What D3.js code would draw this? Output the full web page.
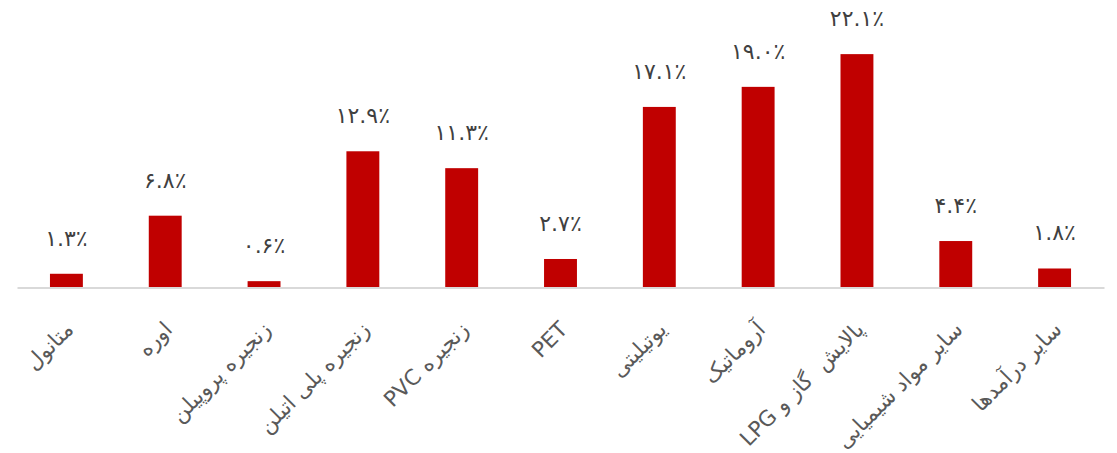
<!DOCTYPE html>
<html lang="fa">
<head>
<meta charset="utf-8">
<script src="https://cdn.jsdelivr.net/npm/d3@7/dist/d3.min.js"></script>
<style>
  html, body { margin: 0; padding: 0; background: #ffffff; }
  svg { display: block; }
  .value-label { font-family: "DejaVu Sans", sans-serif; fill: #404040; }
  .cat-label { font-family: "DejaVu Sans", sans-serif; fill: #595959; white-space: pre; }
</style>
</head>
<body>
<svg id="chart" width="1117" height="453"></svg>
<script>
// Revenue share by product line (percent)
const categories = [
  "متانول",
  "اوره",
  "زنجیره پروپیلن",
  "زنجیره پلی اتیلن",
  "زنجیره PVC",
  "PET",
  "یوتیلیتی",
  "آروماتیک",
  "پالایش  گاز و LPG",
  "سایر مواد شیمیایی",
  "سایر درآمدها"
];
const shares = [1.3, 6.8, 0.6, 12.9, 11.3, 2.7, 17.1, 19.0, 22.1, 4.4, 1.8];
const yDomain = [0, 25];

// Persian digits for the value labels
const faDigits = ["۰", "۱", "۲", "۳", "۴", "۵", "۶", "۷", "۸", "۹"];
const toFa = s => s.replace(/[0-9]/g, d => faDigits[+d]);
const fmtShare = v => toFa(v.toFixed(1)) + "٪";

const svg = d3.select("#chart");
const baseY = 287.5;

const x = d3.scaleBand()
  .domain(categories)
  .range([17, 1104])
  .paddingInner(0.667)
  .paddingOuter(0.3335);

const y = d3.scaleLinear()
  .domain(yDomain)
  .range([baseY, baseY - 264]);

// Bars
svg.append("g")
  .selectAll("rect")
  .data(shares)
  .join("rect")
  .attr("x", (d, i) => x(categories[i]))
  .attr("y", d => y(d))
  .attr("width", x.bandwidth())
  .attr("height", d => y(0) - y(d))
  .attr("fill", "#C00000");

// Value labels above bars
svg.append("g")
  .selectAll("text")
  .data(shares)
  .join("text")
  .attr("class", "value-label")
  .attr("x", (d, i) => x(categories[i]) + x.bandwidth() / 2)
  .attr("y", d => y(d) - 28)
  .attr("text-anchor", "middle")
  .attr("font-size", 22)
  .attr("letter-spacing", 1)
  .text(d => fmtShare(d));

// Category axis
const axis = svg.append("g")
  .attr("transform", `translate(0,${baseY})`)
  .call(d3.axisBottom(x).tickSize(0).tickSizeOuter(0).tickPadding(0));

axis.select(".domain")
  .attr("stroke", "#d9d9d9")
  .attr("stroke-width", 2);

axis.selectAll(".tick text")
  .attr("class", "cat-label")
  .attr("font-size", 21.5)
  .attr("fill", "#595959")
  .attr("direction", "rtl")
  .attr("text-anchor", "start")
  .attr("x", 0)
  .attr("y", 0)
  .attr("dy", "0.35em")
  .attr("transform", "translate(3,38) rotate(-45)");
</script>
</body>
</html>
